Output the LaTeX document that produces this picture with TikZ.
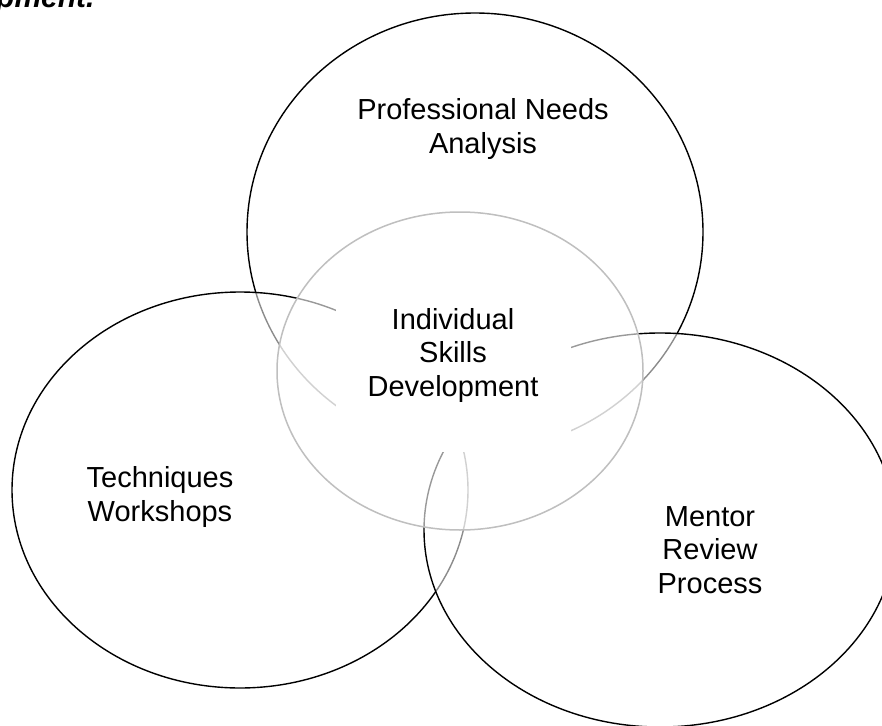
\documentclass[tikz,border=0pt]{standalone}
\usepackage{fontspec}
\setmainfont{Liberation Sans}
\definecolor{vennedge}{HTML}{BFBFBF}
\tikzset{
  vennring/.style={draw=black, line width=1.4bp, fill=white, fill opacity=0.55},
  venncore/.style={draw=vennedge, line width=1.5bp},
  vennlabel/.style={align=center, inner sep=0pt, font=\fontsize{29bp}{33.5bp}\selectfont}
}
\begin{document}
\begin{tikzpicture}[x=1bp, y=-1bp]
\useasboundingbox (0,0) rectangle (882,726);
\clip (0,0) rectangle (882,726);
\node[anchor=base west, inner sep=0pt, font=\fontsize{30bp}{34bp}\selectfont\bfseries\itshape] (caption) at (-4,8) {pment.};
\draw[vennring] (475,232) ellipse (228 and 219);
\draw[vennring] (240,490) ellipse (228 and 198);
\draw[vennring] (660,530) ellipse (236 and 197);
\fill[white, fill opacity=0.6] (460,371) ellipse (183 and 159);
\fill[white] (336,290) rectangle (571,452);
\draw[venncore] (460,371) ellipse (183 and 159);
\node[vennlabel] (needs) at (483,129) {Professional Needs\\Analysis};
\node[vennlabel] (skills) at (453,355) {Individual\\Skills\\Development};
\node[vennlabel] (workshops) at (160,497) {Techniques\\Workshops};
\node[vennlabel] (mentor) at (710,550) {Mentor\\Review\\Process};
\end{tikzpicture}
\end{document}
